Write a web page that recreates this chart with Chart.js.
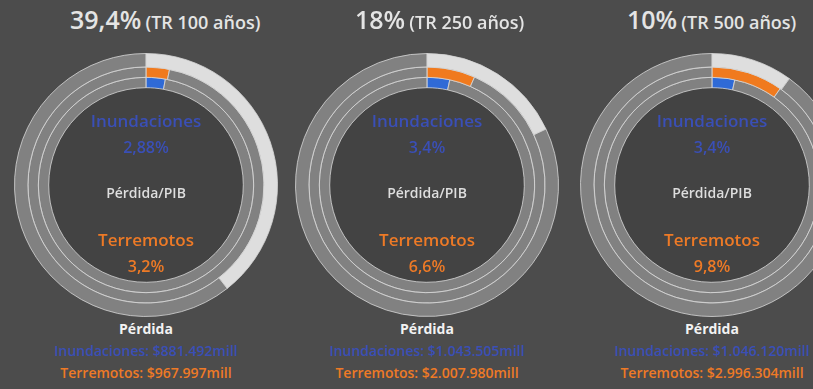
<!DOCTYPE html>
<html>
<head>
<meta charset="utf-8">
<script src="https://cdn.jsdelivr.net/npm/chart.js@4.4.0/dist/chart.umd.min.js"></script>
<style>
  html, body { margin: 0; padding: 0; }
  body { width: 813px; height: 389px; overflow: hidden; background: #4c4c4c; position: relative; font-family: "Open Sans", sans-serif; }
  canvas { position: absolute; }
  .t { position: absolute; width: 300px; text-align: center; white-space: nowrap; }
  .title { position: absolute; top: 2px; color: #e4e4e4; white-space: nowrap; font-weight: 600; }
  .title b { font-size: 25px; font-weight: 600; }
  .title span { font-size: 18px; }
</style>
</head>
<body>
<script>
// data
const probLabels = ['39,4%', '18%', '10%'];
const periods = ['(TR 100 años)', '(TR 250 años)', '(TR 500 años)'];
const probability = [39.4, 18, 10];
const quakeGdp = [3.2, 6.6, 9.8];
const floodGdp = [2.88, 3.4, 3.4];
const quakeGdpLabels = ['3,2%', '6,6%', '9,8%'];
const floodGdpLabels = ['2,88%', '3,4%', '3,4%'];
const floodLoss = ['$881.492mill', '$1.043.505mill', '$1.046.120mill'];
const quakeLoss = ['$967.997mill', '$2.007.980mill', '$2.996.304mill'];

const centersX = [146, 427, 712];
const titleLeft = [70, 355, 627];
const cy = 185;
const R = 132;

const innerDisc = {
  id: 'innerDisc',
  beforeDatasetsDraw(chart) {
    const arc = chart.getDatasetMeta(2).data[0];
    if (!arc) return;
    const ctx = chart.ctx;
    ctx.save();
    ctx.fillStyle = '#434343';
    ctx.beginPath();
    ctx.arc(arc.x, arc.y, arc.innerRadius, 0, Math.PI * 2);
    ctx.fill();
    ctx.restore();
  }
};

function addText(txt, cx, y, size, color, weight) {
  const d = document.createElement('div');
  d.className = 't';
  d.textContent = txt;
  d.style.left = (cx - 150) + 'px';
  d.style.top = (y - size * 0.7) + 'px';
  d.style.fontSize = size + 'px';
  d.style.lineHeight = (size * 1.4) + 'px';
  d.style.color = color;
  d.style.fontWeight = weight || 600;
  document.body.appendChild(d);
}

const track = 'rgba(150,150,150,0.72)';
const line = 'rgba(215,215,215,0.8)';
const blueText = '#3a4fb6';

for (let i = 0; i < 3; i++) {
  const cx = centersX[i];
  const cv = document.createElement('canvas');
  cv.width = R * 2; cv.height = R * 2;
  cv.style.left = (cx - R) + 'px';
  cv.style.top = (cy - R) + 'px';
  document.body.appendChild(cv);

  new Chart(cv, {
    type: 'doughnut',
    data: {
      labels: ['valor', 'resto'],
      datasets: [
        { data: [probability[i], 100 - probability[i]], backgroundColor: ['#dedede', track], borderColor: line, borderWidth: 1, weight: 1.3 },
        { data: [quakeGdp[i], 100 - quakeGdp[i]], backgroundColor: ['#f07a1e', track], borderColor: line, borderWidth: 1, weight: 1 },
        { data: [floodGdp[i], 100 - floodGdp[i]], backgroundColor: ['#2f6ad6', track], borderColor: line, borderWidth: 1, weight: 1 }
      ]
    },
    options: {
      responsive: false,
      animation: false,
      cutout: '74%',
      layout: { padding: 0 },
      plugins: { legend: { display: false }, tooltip: { enabled: false } }
    },
    plugins: [innerDisc]
  });

  const t = document.createElement('div');
  t.className = 'title';
  t.style.left = titleLeft[i] + 'px';
  t.innerHTML = '<b>' + probLabels[i] + '</b> <span>' + periods[i] + '</span>';
  document.body.appendChild(t);

  addText('Inundaciones', cx, 121, 17, blueText);
  addText(floodGdpLabels[i], cx, 147, 16, blueText);
  addText('Pérdida/PIB', cx, 193, 14, '#dedede');
  addText('Terremotos', cx, 240, 17, '#ee7a26');
  addText(quakeGdpLabels[i], cx, 266, 16, '#ee7a26');
  addText('Pérdida', cx, 329, 14, '#f2f2f2', 700);
  addText('Inundaciones: ' + floodLoss[i], cx, 351, 14, blueText);
  addText('Terremotos: ' + quakeLoss[i], cx, 373, 14, '#ee7a26');
}
</script>
</body>
</html>
